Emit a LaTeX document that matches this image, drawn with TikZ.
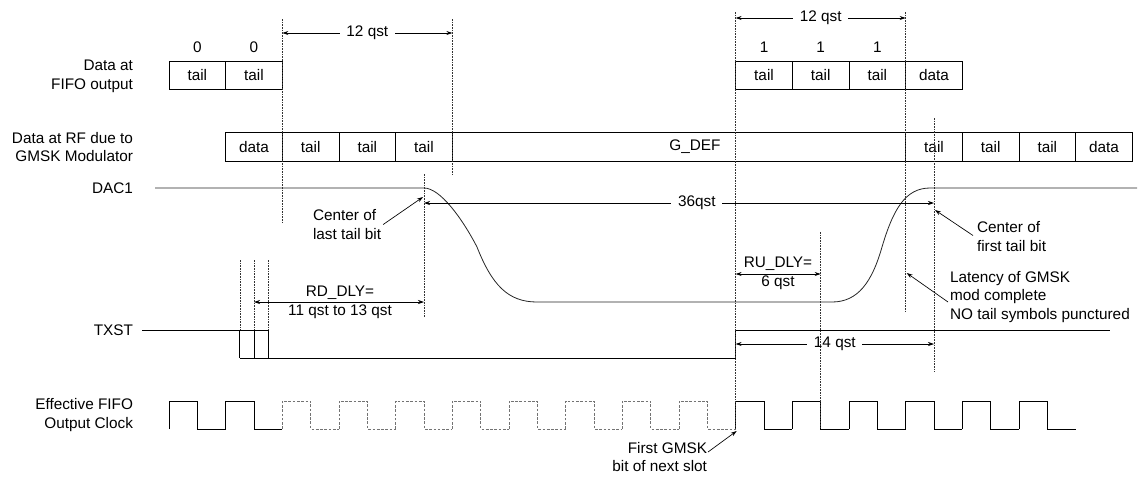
\documentclass[tikz,border=0pt]{standalone}
\usepackage{fontspec}
\setmainfont{Liberation Sans}
\usetikzlibrary{arrows.meta}
\newcommand\gx[1]{(169+(#1)*56.667)}
\begin{document}
\begin{tikzpicture}[x=0.75pt,y=-0.75pt,
  every node/.style={font=\fontsize{11.5pt}{14pt}\selectfont, inner sep=0pt, outer sep=0pt},
  cell/.style={draw, line width=0.6pt, minimum height=21.5pt, minimum width=42.5pt, anchor=center},
  guide/.style={draw=black!80, line width=0.45pt, dash pattern=on 1.2pt off 0.8pt},
  wave/.style={line width=0.6pt, line join=miter},
  ghost/.style={draw=black!55, line width=0.5pt, dash pattern=on 2pt off 1.2pt},
  dim/.style={line width=0.5pt, {Stealth[length=4.5pt,width=3pt]}-{Stealth[length=4.5pt,width=3pt]}},
  pointer/.style={line width=0.5pt, -{Stealth[length=4.5pt,width=3pt]}},
  lbl/.style={align=right, anchor=east},
  gap/.style={fill=white, inner xsep=5pt, inner ysep=1pt}
]
\useasboundingbox (0,0) rectangle (1138,476);

% ---------- row labels ----------
\node[lbl] (lfifo) at (133,76) {Data at\\FIFO output};
\node[lbl] (lrf) at (133,147) {Data at RF due to\\GMSK Modulator};
\node[lbl] (ldac) at (133,188) {DAC1};
\node[lbl] (ltxst) at (133,330) {TXST};
\node[lbl] (lclk) at (133,415) {Effective FIFO\\Output Clock};

% ---------- FIFO output row ----------
\node[cell] (f0) at ({\gx{0.5}},75.5) {tail};
\node[cell] (f1) at ({\gx{1.5}},75.5) {tail};
\node[cell] (f10) at ({\gx{10.5}},75.5) {tail};
\node[cell] (f11) at ({\gx{11.5}},75.5) {tail};
\node[cell] (f12) at ({\gx{12.5}},75.5) {tail};
\node[cell] (f13) at ({\gx{13.5}},75.5) {data};
\node (b0) at ({\gx{0.5}},47) {0};
\node (b1) at ({\gx{1.5}},47) {0};
\node (b10) at ({\gx{10.5}},47) {1};
\node (b11) at ({\gx{11.5}},47) {1};
\node (b12) at ({\gx{12.5}},47) {1};

% ---------- RF row ----------
\node[cell] (r1) at ({\gx{1.5}},147) {data};
\node[cell] (r2) at ({\gx{2.5}},147) {tail};
\node[cell] (r3) at ({\gx{3.5}},147) {tail};
\node[cell] (r4) at ({\gx{4.5}},147) {tail};
\node[cell, minimum width=340pt] (gdef) at ({\gx{9}},147) {};
\node (gdeft) at (695,147) {G\_DEF};
\node[cell] (r13) at ({\gx{13.5}},147) {tail};
\node[cell] (r14) at ({\gx{14.5}},147) {tail};
\node[cell] (r15) at ({\gx{15.5}},147) {tail};
\node[cell] (r16) at ({\gx{16.5}},147) {data};

% ---------- DAC1 ----------
\draw[wave, draw=black!85] (155,188) -- ({\gx{4.5}},188)
  .. controls (440,188) and (462,218) .. (477,247)
  .. controls (492,285) and (508,302) .. (537,302)
  -- (832,302)
  .. controls (858,302) and (872,282) .. (882,247)
  .. controls (893,210) and (905,188) .. (930,188)
  -- (1137,188);

% ---------- TXST ----------
\draw[wave] (142,330) -- ({\gx{1.75}},330);
\foreach \k in {1.25,1.5,1.75}
  \draw[wave] ({\gx{\k}},330) -- ({\gx{\k}},358);
\draw[wave] ({\gx{1.25}},358) -- ({\gx{10}},358) -- ({\gx{10}},330) -- (1110,330);

% ---------- clock ----------
\foreach \k in {0,1,10,11,12,13,14,15}
  \draw[wave] ({\gx{\k}},429) -- ({\gx{\k}},401) -- ({\gx{\k+0.5}},401) -- ({\gx{\k+0.5}},429) -- ({\gx{\k+1}},429);
\foreach \k in {2,...,9}
  \draw[ghost] ({\gx{\k}},429) -- ({\gx{\k}},401) -- ({\gx{\k+0.5}},401) -- ({\gx{\k+0.5}},429) -- ({\gx{\k+1}},429);

% ---------- dimension arrows ----------
\coordinate (qa1) at ({\gx{2}},33);
\coordinate (qa2) at ({\gx{5}},33);
\draw[dim] (qa1) -- (qa2) node[midway, gap] (q12a) {12 qst};
\coordinate (qb1) at ({\gx{10}},18);
\coordinate (qb2) at ({\gx{13}},18);
\draw[dim] (qb1) -- (qb2) node[midway, gap] (q12b) {12 qst};
\coordinate (s1) at ({\gx{4.5}},203);
\coordinate (s2) at ({\gx{13.5}},203);
\draw[dim] (s1) -- (s2) node[pos=0.535, gap] (q36) {36qst};
\coordinate (rd1) at ({\gx{1.5}},302);
\coordinate (rd2) at ({\gx{4.5}},302);
\draw[dim] (rd1) -- (rd2);
\node[align=center] (rdt) at (340,302) {RD\_DLY=\\11 qst to 13 qst};
\coordinate (ru1) at ({\gx{10}},274);
\coordinate (ru2) at ({\gx{11.5}},274);
\draw[dim] (ru1) -- (ru2);
\node[align=center] (rut) at (778,273.5) {RU\_DLY=\\6 qst};
\coordinate (f14a) at ({\gx{10}},344);
\coordinate (f14b) at ({\gx{13.5}},344);
\draw[dim] (f14a) -- (f14b) node[midway, gap] (q14) {14 qst};

% ---------- guides ----------
\draw[guide] ({\gx{2}},19) -- ({\gx{2}},223);
\draw[guide] ({\gx{5}},19) -- ({\gx{5}},175);
\draw[guide] ({\gx{4.5}},174) -- ({\gx{4.5}},317);
\draw[guide] ({\gx{10}},12) -- ({\gx{10}},429);
\draw[guide] ({\gx{13}},12) -- ({\gx{13}},313);
\draw[guide] ({\gx{13.5}},118) -- ({\gx{13.5}},372);
\draw[guide] ({\gx{11.5}},232) -- ({\gx{11.5}},429);
\foreach \k in {1.25,1.5,1.75}
  \draw[guide] ({\gx{\k}},260) -- ({\gx{\k}},330);

% ---------- annotations ----------
\node[align=left, anchor=west] (clast) at (313,224.5) {Center of\\last tail bit};
\coordinate (clastp) at ({\gx{4.5}-1},197);
\draw[pointer] ([xshift=1.5pt]clast.east) -- (clastp);

\node[align=left, anchor=west] (cfirst) at (977,236.5) {Center of\\first tail bit};
\coordinate (cfirstp) at ({\gx{13.5}+1},210);
\draw[pointer] ([shift={(-4,-1)}]cfirst.west) -- (cfirstp);

\node[align=left, anchor=west] (lat) at (950,297) {Latency of GMSK\\mod complete\\NO tail symbols punctured};
\coordinate (latp) at ({\gx{13}+1},273);
\draw[pointer] ([shift={(-2,5)}]lat.west) -- (latp);

\node[align=right, anchor=east] (fg) at (707,457) {First GMSK\\bit of next slot};
\coordinate (fgp) at ({\gx{10}+1},431);
\draw[pointer] ([shift={(1,-5)}]fg.east) -- (fgp);
\end{tikzpicture}
\end{document}
